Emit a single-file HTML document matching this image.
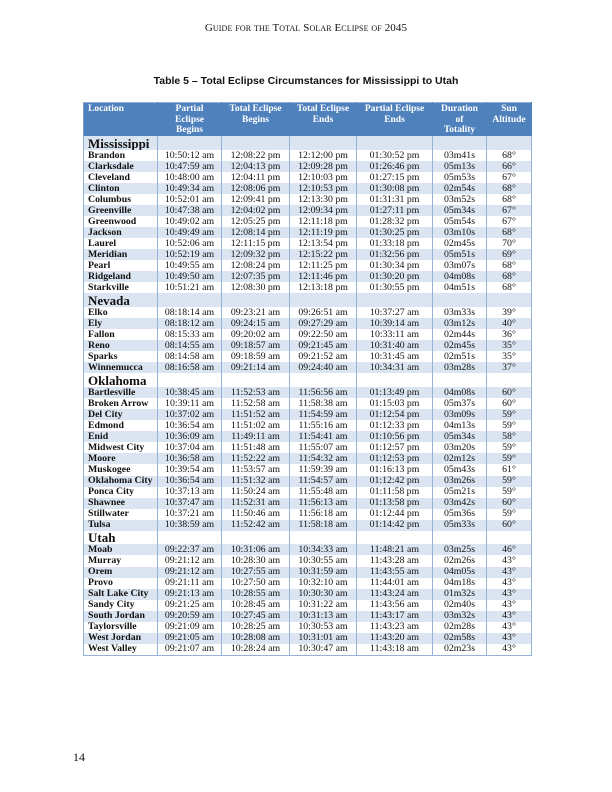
<!DOCTYPE html>
<html><head><meta charset="utf-8"><style>
html,body{margin:0;padding:0;background:#fff;}
body{width:612px;height:792px;position:relative;overflow:hidden;font-family:"Liberation Serif",serif;color:#111;}
.hdr{position:absolute;top:22px;left:0;width:612px;text-align:center;font-size:11px;font-variant:small-caps;letter-spacing:0.1px;}
.ttl{position:absolute;top:75px;left:0;width:612px;text-align:center;font-family:"Liberation Sans",sans-serif;font-weight:bold;font-size:10.5px;}
.pg{position:absolute;left:73px;top:750px;font-size:12px;}
table{position:absolute;left:83px;top:102px;border-collapse:collapse;table-layout:fixed;width:448px;border:1px solid #95b3d7;}
td,th{padding:0;border-left:1px solid #95b3d7;border-right:1px solid #95b3d7;font-size:9.8px;text-align:center;white-space:nowrap;overflow:hidden;line-height:1;}
th{background:#4f81bd;color:#fff;font-weight:bold;vertical-align:top;height:32.2px;line-height:10.5px;padding-top:1px;border-color:#4f81bd;border-left-color:#7ea0cc;font-size:9.5px;}
th.l{text-align:left;padding-left:4px;}
tr.r td{height:11.05px;}
tr.s td{height:13.7px;}
td.n{text-align:left;padding-left:4px;font-weight:bold;}
tr.s td.n{font-size:13px;font-weight:bold;}
tr.b td{background:#dbe5f1;}
</style></head><body>
<div class="hdr">Guide for the Total Solar Eclipse of 2045</div>
<div class="ttl">Table 5 – Total Eclipse Circumstances for Mississippi to Utah</div>
<table>
<colgroup><col style="width:74px"><col style="width:64px"><col style="width:68px"><col style="width:67px"><col style="width:76px"><col style="width:54px"><col style="width:45px"></colgroup>
<tr><th class="l">Location</th><th>Partial<br>Eclipse<br>Begins</th><th>Total Eclipse<br>Begins</th><th>Total Eclipse<br>Ends</th><th>Partial Eclipse<br>Ends</th><th>Duration<br>of<br>Totality</th><th>Sun<br>Altitude</th></tr>
<tr class="s b"><td class="n">Mississippi</td><td></td><td></td><td></td><td></td><td></td><td></td></tr>
<tr class="r"><td class="n">Brandon</td><td>10:50:12 am</td><td>12:08:22 pm</td><td>12:12:00 pm</td><td>01:30:52 pm</td><td>03m41s</td><td>68°</td></tr>
<tr class="r b"><td class="n">Clarksdale</td><td>10:47:59 am</td><td>12:04:13 pm</td><td>12:09:28 pm</td><td>01:26:46 pm</td><td>05m13s</td><td>66°</td></tr>
<tr class="r"><td class="n">Cleveland</td><td>10:48:00 am</td><td>12:04:11 pm</td><td>12:10:03 pm</td><td>01:27:15 pm</td><td>05m53s</td><td>67°</td></tr>
<tr class="r b"><td class="n">Clinton</td><td>10:49:34 am</td><td>12:08:06 pm</td><td>12:10:53 pm</td><td>01:30:08 pm</td><td>02m54s</td><td>68°</td></tr>
<tr class="r"><td class="n">Columbus</td><td>10:52:01 am</td><td>12:09:41 pm</td><td>12:13:30 pm</td><td>01:31:31 pm</td><td>03m52s</td><td>68°</td></tr>
<tr class="r b"><td class="n">Greenville</td><td>10:47:38 am</td><td>12:04:02 pm</td><td>12:09:34 pm</td><td>01:27:11 pm</td><td>05m34s</td><td>67°</td></tr>
<tr class="r"><td class="n">Greenwood</td><td>10:49:02 am</td><td>12:05:25 pm</td><td>12:11:18 pm</td><td>01:28:32 pm</td><td>05m54s</td><td>67°</td></tr>
<tr class="r b"><td class="n">Jackson</td><td>10:49:49 am</td><td>12:08:14 pm</td><td>12:11:19 pm</td><td>01:30:25 pm</td><td>03m10s</td><td>68°</td></tr>
<tr class="r"><td class="n">Laurel</td><td>10:52:06 am</td><td>12:11:15 pm</td><td>12:13:54 pm</td><td>01:33:18 pm</td><td>02m45s</td><td>70°</td></tr>
<tr class="r b"><td class="n">Meridian</td><td>10:52:19 am</td><td>12:09:32 pm</td><td>12:15:22 pm</td><td>01:32:56 pm</td><td>05m51s</td><td>69°</td></tr>
<tr class="r"><td class="n">Pearl</td><td>10:49:55 am</td><td>12:08:24 pm</td><td>12:11:25 pm</td><td>01:30:34 pm</td><td>03m07s</td><td>68°</td></tr>
<tr class="r b"><td class="n">Ridgeland</td><td>10:49:50 am</td><td>12:07:35 pm</td><td>12:11:46 pm</td><td>01:30:20 pm</td><td>04m08s</td><td>68°</td></tr>
<tr class="r"><td class="n">Starkville</td><td>10:51:21 am</td><td>12:08:30 pm</td><td>12:13:18 pm</td><td>01:30:55 pm</td><td>04m51s</td><td>68°</td></tr>
<tr class="s b"><td class="n">Nevada</td><td></td><td></td><td></td><td></td><td></td><td></td></tr>
<tr class="r"><td class="n">Elko</td><td>08:18:14 am</td><td>09:23:21 am</td><td>09:26:51 am</td><td>10:37:27 am</td><td>03m33s</td><td>39°</td></tr>
<tr class="r b"><td class="n">Ely</td><td>08:18:12 am</td><td>09:24:15 am</td><td>09:27:29 am</td><td>10:39:14 am</td><td>03m12s</td><td>40°</td></tr>
<tr class="r"><td class="n">Fallon</td><td>08:15:33 am</td><td>09:20:02 am</td><td>09:22:50 am</td><td>10:33:11 am</td><td>02m44s</td><td>36°</td></tr>
<tr class="r b"><td class="n">Reno</td><td>08:14:55 am</td><td>09:18:57 am</td><td>09:21:45 am</td><td>10:31:40 am</td><td>02m45s</td><td>35°</td></tr>
<tr class="r"><td class="n">Sparks</td><td>08:14:58 am</td><td>09:18:59 am</td><td>09:21:52 am</td><td>10:31:45 am</td><td>02m51s</td><td>35°</td></tr>
<tr class="r b"><td class="n">Winnemucca</td><td>08:16:58 am</td><td>09:21:14 am</td><td>09:24:40 am</td><td>10:34:31 am</td><td>03m28s</td><td>37°</td></tr>
<tr class="s"><td class="n">Oklahoma</td><td></td><td></td><td></td><td></td><td></td><td></td></tr>
<tr class="r b"><td class="n">Bartlesville</td><td>10:38:45 am</td><td>11:52:53 am</td><td>11:56:56 am</td><td>01:13:49 pm</td><td>04m08s</td><td>60°</td></tr>
<tr class="r"><td class="n">Broken Arrow</td><td>10:39:11 am</td><td>11:52:58 am</td><td>11:58:38 am</td><td>01:15:03 pm</td><td>05m37s</td><td>60°</td></tr>
<tr class="r b"><td class="n">Del City</td><td>10:37:02 am</td><td>11:51:52 am</td><td>11:54:59 am</td><td>01:12:54 pm</td><td>03m09s</td><td>59°</td></tr>
<tr class="r"><td class="n">Edmond</td><td>10:36:54 am</td><td>11:51:02 am</td><td>11:55:16 am</td><td>01:12:33 pm</td><td>04m13s</td><td>59°</td></tr>
<tr class="r b"><td class="n">Enid</td><td>10:36:09 am</td><td>11:49:11 am</td><td>11:54:41 am</td><td>01:10:56 pm</td><td>05m34s</td><td>58°</td></tr>
<tr class="r"><td class="n">Midwest City</td><td>10:37:04 am</td><td>11:51:48 am</td><td>11:55:07 am</td><td>01:12:57 pm</td><td>03m20s</td><td>59°</td></tr>
<tr class="r b"><td class="n">Moore</td><td>10:36:58 am</td><td>11:52:22 am</td><td>11:54:32 am</td><td>01:12:53 pm</td><td>02m12s</td><td>59°</td></tr>
<tr class="r"><td class="n">Muskogee</td><td>10:39:54 am</td><td>11:53:57 am</td><td>11:59:39 am</td><td>01:16:13 pm</td><td>05m43s</td><td>61°</td></tr>
<tr class="r b"><td class="n">Oklahoma City</td><td>10:36:54 am</td><td>11:51:32 am</td><td>11:54:57 am</td><td>01:12:42 pm</td><td>03m26s</td><td>59°</td></tr>
<tr class="r"><td class="n">Ponca City</td><td>10:37:13 am</td><td>11:50:24 am</td><td>11:55:48 am</td><td>01:11:58 pm</td><td>05m21s</td><td>59°</td></tr>
<tr class="r b"><td class="n">Shawnee</td><td>10:37:47 am</td><td>11:52:31 am</td><td>11:56:13 am</td><td>01:13:58 pm</td><td>03m42s</td><td>60°</td></tr>
<tr class="r"><td class="n">Stillwater</td><td>10:37:21 am</td><td>11:50:46 am</td><td>11:56:18 am</td><td>01:12:44 pm</td><td>05m36s</td><td>59°</td></tr>
<tr class="r b"><td class="n">Tulsa</td><td>10:38:59 am</td><td>11:52:42 am</td><td>11:58:18 am</td><td>01:14:42 pm</td><td>05m33s</td><td>60°</td></tr>
<tr class="s"><td class="n">Utah</td><td></td><td></td><td></td><td></td><td></td><td></td></tr>
<tr class="r b"><td class="n">Moab</td><td>09:22:37 am</td><td>10:31:06 am</td><td>10:34:33 am</td><td>11:48:21 am</td><td>03m25s</td><td>46°</td></tr>
<tr class="r"><td class="n">Murray</td><td>09:21:12 am</td><td>10:28:30 am</td><td>10:30:55 am</td><td>11:43:28 am</td><td>02m26s</td><td>43°</td></tr>
<tr class="r b"><td class="n">Orem</td><td>09:21:12 am</td><td>10:27:55 am</td><td>10:31:59 am</td><td>11:43:55 am</td><td>04m05s</td><td>43°</td></tr>
<tr class="r"><td class="n">Provo</td><td>09:21:11 am</td><td>10:27:50 am</td><td>10:32:10 am</td><td>11:44:01 am</td><td>04m18s</td><td>43°</td></tr>
<tr class="r b"><td class="n">Salt Lake City</td><td>09:21:13 am</td><td>10:28:55 am</td><td>10:30:30 am</td><td>11:43:24 am</td><td>01m32s</td><td>43°</td></tr>
<tr class="r"><td class="n">Sandy City</td><td>09:21:25 am</td><td>10:28:45 am</td><td>10:31:22 am</td><td>11:43:56 am</td><td>02m40s</td><td>43°</td></tr>
<tr class="r b"><td class="n">South Jordan</td><td>09:20:59 am</td><td>10:27:45 am</td><td>10:31:13 am</td><td>11:43:17 am</td><td>03m32s</td><td>43°</td></tr>
<tr class="r"><td class="n">Taylorsville</td><td>09:21:09 am</td><td>10:28:25 am</td><td>10:30:53 am</td><td>11:43:23 am</td><td>02m28s</td><td>43°</td></tr>
<tr class="r b"><td class="n">West Jordan</td><td>09:21:05 am</td><td>10:28:08 am</td><td>10:31:01 am</td><td>11:43:20 am</td><td>02m58s</td><td>43°</td></tr>
<tr class="r"><td class="n">West Valley</td><td>09:21:07 am</td><td>10:28:24 am</td><td>10:30:47 am</td><td>11:43:18 am</td><td>02m23s</td><td>43°</td></tr>
</table>
<div class="pg">14</div>
</body></html>
